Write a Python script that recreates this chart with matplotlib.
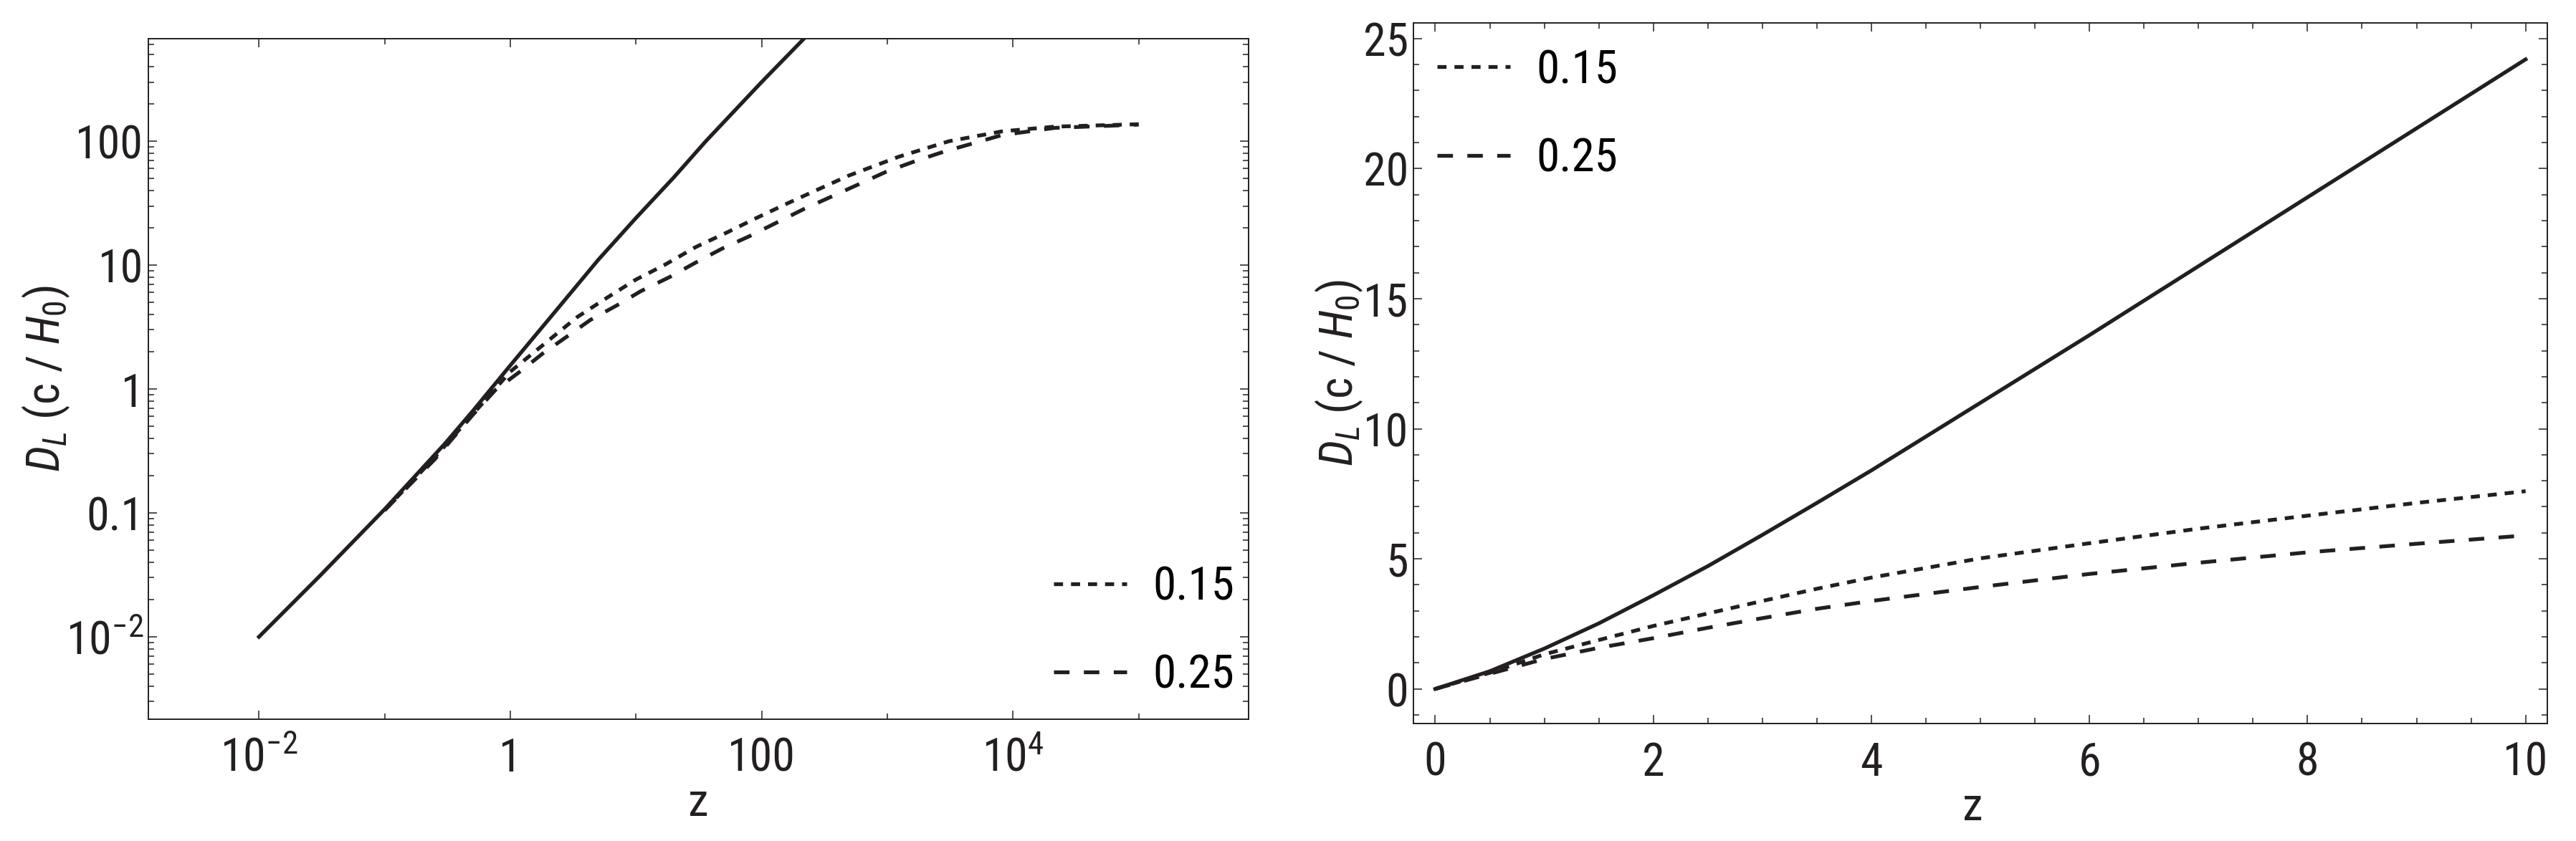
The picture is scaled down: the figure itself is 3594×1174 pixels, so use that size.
import numpy as np
import matplotlib
matplotlib.use("Agg")
import matplotlib.pyplot as plt
from matplotlib import font_manager
from matplotlib.ticker import FixedLocator, FixedFormatter, MultipleLocator

# police proche de l'original (Helvetica compacte) si disponible
names = {f.name for f in font_manager.fontManager.ttflist}
fam = "Liberation Sans"
narrow = False
for cand in ["Liberation Sans Narrow", "Roboto Condensed", "DejaVu Sans Condensed",
             "Open Sans Condensed"]:
    if cand in names:
        fam = cand
        narrow = True
        break
plt.rcParams['font.family'] = [fam, 'DejaVu Sans']
plt.rcParams['mathtext.fontset'] = 'custom'
plt.rcParams['mathtext.rm'] = fam
plt.rcParams['mathtext.it'] = fam + ':italic'
plt.rcParams['mathtext.default'] = 'regular'

ink = '#231f20'

# panneau gauche (log-log)
z_sol_log = [0.01, 0.03, 0.1, 0.3, 0.5, 1, 2, 3, 5, 10, 20, 36, 100, 300]
dl_sol_log = [0.01, 0.0305, 0.107, 0.36, 0.66, 1.55, 3.6, 5.9, 11.0, 24.0, 51, 100, 300, 940]

z_015_log = [0.1, 0.25, 0.5, 1.0, 2.1, 3.4, 5.8, 9.9, 16.8, 30, 54, 91, 163, 277, 495,
             1240, 3110, 8200, 21500, 100000]
dl_015_log = [0.105, 0.28, 0.62, 1.38, 2.55, 3.8, 5.4, 7.6, 10.0, 14.0, 18.5, 24.0, 31.7,
              40.5, 52.8, 75, 100, 120, 131, 137]

z_025_log = [0.1, 0.25, 0.49, 0.76, 1.17, 1.82, 2.81, 4.34, 7.0, 10.9, 18.5, 30, 48.6, 79,
             128, 218, 353, 573, 975, 1660, 2825, 4810, 8200, 21500, 100000]
dl_025_log = [0.105, 0.27, 0.6, 0.98, 1.36, 1.94, 2.64, 3.61, 4.71, 6.15, 8.0, 10.5, 13.6,
              17.0, 21.7, 28.4, 35.4, 44.2, 56.5, 68.9, 82.3, 96, 112, 128, 136]

# panneau droit (lineaire)
z_lin = [0, 0.5, 1, 1.5, 2, 2.5, 3, 3.5, 4, 5, 6, 7, 8, 9, 10]
dl_sol_lin = [0, 0.68, 1.55, 2.52, 3.6, 4.72, 5.92, 7.15, 8.4, 11.0, 13.6, 16.25, 18.9, 21.55, 24.2]
dl_015_lin = [0, 0.62, 1.33, 1.88, 2.42, 2.9, 3.38, 3.85, 4.28, 5.02, 5.6, 6.16, 6.66, 7.15, 7.6]
dl_025_lin = [0, 0.58, 1.15, 1.58, 1.95, 2.35, 2.72, 3.08, 3.38, 3.92, 4.42, 4.85, 5.25, 5.58, 5.9]

labels = ['0.15', '0.25']

xt_log = [1e-2, 1, 1e2, 1e4]
xt_log_lbl = [r'$10^{-2}$', '1', '100', r'$10^{4}$']
yt_log = [1e-2, 1e-1, 1, 10, 100]
yt_log_lbl = [r'$10^{-2}$', '0.1', '1', '10', '100']

lw = 3.8
dot = (0, (2.4, 2.1))
dash = (0, (4.1, 3.8))
fs = 47 if narrow else 42
tfs = 46 if narrow else 41

fig = plt.figure(figsize=(35.94, 11.74), dpi=100)
ax1 = fig.add_axes([0.0576, 0.1448, 0.4271, 0.8092])
ax2 = fig.add_axes([0.5487, 0.1397, 0.4402, 0.8330])

# ---- gauche
ax1.plot(z_sol_log, dl_sol_log, color=ink, lw=lw)
l1, = ax1.plot(z_015_log, dl_015_log, color=ink, lw=lw, linestyle=dot)
l2, = ax1.plot(z_025_log, dl_025_log, color=ink, lw=lw, linestyle=dash)
ax1.set_xscale('log')
ax1.set_yscale('log')
ax1.set_xlim(10**-2.88, 10**5.875)
ax1.set_ylim(10**-2.665, 10**2.827)
ax1.xaxis.set_major_locator(FixedLocator(xt_log))
ax1.xaxis.set_major_formatter(FixedFormatter(xt_log_lbl))
ax1.xaxis.set_minor_locator(FixedLocator([1e-1, 1e1, 1e3, 1e5]))
ax1.xaxis.set_minor_formatter(FixedFormatter([]))
ax1.yaxis.set_major_locator(FixedLocator(yt_log))
ax1.yaxis.set_major_formatter(FixedFormatter(yt_log_lbl))
minors = [m * 10.0**e for e in range(-3, 3) for m in range(2, 10)]
ax1.yaxis.set_minor_locator(FixedLocator(minors))
ax1.yaxis.set_minor_formatter(FixedFormatter([]))
ax1.legend([l1, l2], labels, loc='upper left', bbox_to_anchor=(0.823, 0.227),
           frameon=False, fontsize=fs, handlelength=1.75 * 42 / fs, handletextpad=0.55,
           labelspacing=1.05 * 42 / fs, borderpad=0, borderaxespad=0)

# ---- droite
ax2.plot(z_lin, dl_sol_lin, color=ink, lw=lw)
m1, = ax2.plot(z_lin, dl_015_lin, color=ink, lw=lw, linestyle=dot)
m2, = ax2.plot(z_lin, dl_025_lin, color=ink, lw=lw, linestyle=dash)
ax2.set_xlim(-0.2, 10.2)
ax2.set_ylim(-1.33, 25.6)
ax2.xaxis.set_major_locator(MultipleLocator(2))
ax2.xaxis.set_minor_locator(MultipleLocator(0.5))
ax2.yaxis.set_major_locator(MultipleLocator(5))
ax2.yaxis.set_minor_locator(MultipleLocator(1))
ax2.legend([m1, m2], labels, loc='upper left', bbox_to_anchor=(0.021, 0.964),
           frameon=False, fontsize=fs, handlelength=1.75 * 42 / fs, handletextpad=0.55,
           labelspacing=1.05 * 42 / fs, borderpad=0, borderaxespad=0)

for ax in (ax1, ax2):
    for s in ax.spines.values():
        s.set_linewidth(1.4)
        s.set_color(ink)
    ax.tick_params(which='both', direction='in', top=True, right=True,
                   color=ink, width=1.1, labelsize=tfs, labelcolor=ink)
    ax.tick_params(which='major', length=8.6)
    ax.tick_params(which='minor', length=5.6)
    ax.tick_params(axis='x', pad=17)
    ax.tick_params(axis='y', pad=5)
    ax.set_xlabel('z', fontsize=fs, color=ink)
    ax.set_ylabel(r'$\mathit{D}_{\mathit{L}}$ (c / $\mathit{H}_0$)', fontsize=fs, color=ink)

ax1.xaxis.set_label_coords(0.5, -0.09)
ax1.yaxis.set_label_coords(-0.07, 0.5)
ax2.xaxis.set_label_coords(0.493, -0.088)
ax2.yaxis.set_label_coords(-0.043, 0.5)

fig.savefig('out.png', dpi=100)
